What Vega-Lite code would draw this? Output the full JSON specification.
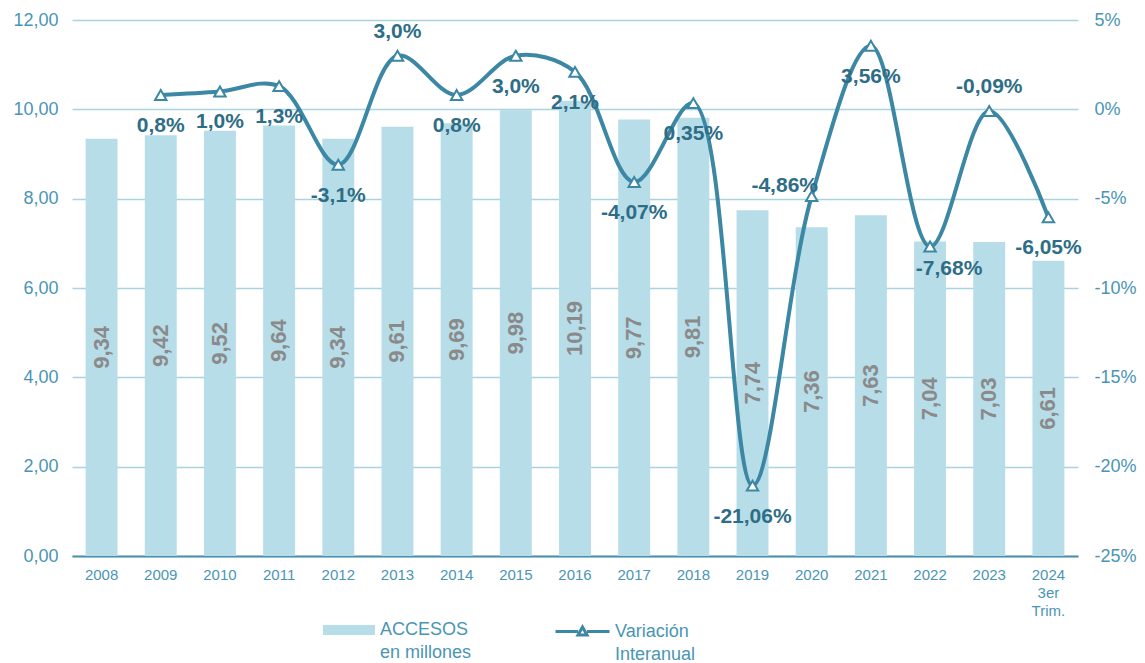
{
  "$schema": "https://vega.github.io/schema/vega-lite/v6.json",
  "width": 1006,
  "height": 536,
  "autosize": {"type": "none"},
  "padding": {"left": 72, "top": 20, "right": 67, "bottom": 107},
  "background": "white",
  "config": {
    "view": {"stroke": null},
    "locale": {"number": {"decimal": ",", "thousands": ".", "grouping": [3], "currency": ["", " €"]}},
    "font": "Liberation Sans",
    "style": {"guide-label": {"lineHeight": 23}}
  },
  "data": {
    "values": [
      {"year": "2008", "acc": 9.34, "var": null, "lab": null},
      {"year": "2009", "acc": 9.42, "var": 0.8, "lab": "0,8%"},
      {"year": "2010", "acc": 9.52, "var": 1.0, "lab": "1,0%"},
      {"year": "2011", "acc": 9.64, "var": 1.3, "lab": "1,3%"},
      {"year": "2012", "acc": 9.34, "var": -3.1, "lab": "-3,1%"},
      {"year": "2013", "acc": 9.61, "var": 3.0, "lab": "3,0%"},
      {"year": "2014", "acc": 9.69, "var": 0.8, "lab": "0,8%"},
      {"year": "2015", "acc": 9.98, "var": 3.0, "lab": "3,0%"},
      {"year": "2016", "acc": 10.19, "var": 2.1, "lab": "2,1%"},
      {"year": "2017", "acc": 9.77, "var": -4.07, "lab": "-4,07%"},
      {"year": "2018", "acc": 9.81, "var": 0.35, "lab": "0,35%"},
      {"year": "2019", "acc": 7.74, "var": -21.06, "lab": "-21,06%"},
      {"year": "2020", "acc": 7.36, "var": -4.86, "lab": "-4,86%"},
      {"year": "2021", "acc": 7.63, "var": 3.56, "lab": "3,56%"},
      {"year": "2022", "acc": 7.04, "var": -7.68, "lab": "-7,68%"},
      {"year": "2023", "acc": 7.03, "var": -0.09, "lab": "-0,09%"},
      {"year": "2024", "acc": 6.61, "var": -6.05, "lab": "-6,05%"}
    ]
  },
  "encoding": {
    "x": {
      "field": "year",
      "type": "ordinal",
      "title": null,
      "scale": {"paddingInner": 0.46, "paddingOuter": 0.23},
      "axis": {
        "labelAngle": 0,
        "labelFontSize": 15,
        "labelColor": "#4a95b5",
        "labelFont": "Liberation Sans",
        "labelPadding": 11,
        "labelLineHeight": 18,
        "ticks": false,
        "domainColor": "#4a8fae",
        "domainWidth": 2,
        "grid": false,
        "labelExpr": "datum.value == '2024' ? ['2024', '3er', 'Trim.'] : datum.value"
      }
    }
  },
  "layer": [
    {
      "layer": [
        {
          "mark": {"type": "bar"},
          "encoding": {
            "y": {
              "field": "acc",
              "type": "quantitative",
              "scale": {"domain": [0, 12], "nice": false},
              "axis": {
                "title": null,
                "values": [0, 2, 4, 6, 8, 10, 12],
                "format": ".2f",
                "domain": false,
                "ticks": false,
                "labelPadding": 14,
                "labelFontSize": 18,
                "labelColor": "#4a95b5",
                "labelFont": "Liberation Sans",
                "gridColor": "#a8d3e0",
                "gridWidth": 1.5
              }
            },
            "color": {
              "datum": "ACCESOS",
              "scale": {"range": ["#b7dde8"]},
              "legend": {
                "orient": "none",
                "legendX": 267,
                "legendY": 600,
                "title": null,
                "symbolType": "M-2.6,-0.5H2.6V0.5H-2.6Z",
                "symbolSize": 400,
                "symbolStrokeWidth": 0,
                "symbolOpacity": 1,
                "labelOffset": 21,
                "labelFontSize": 18,
                "labelColor": "#4a95b5",
                "labelFont": "Liberation Sans",
                "labelLimit": 300,
                "labelBaseline": "middle",
                "labelExpr": "['ACCESOS', 'en millones']"
              }
            }
          }
        },
        {
          "transform": [{"calculate": "datum.acc / 2", "as": "mid"}],
          "mark": {"type": "text", "angle": 270, "fontWeight": "bold", "fontSize": 22, "color": "#8a8a8a", "font": "Liberation Sans"},
          "encoding": {
            "y": {"field": "mid", "type": "quantitative"},
            "text": {"field": "acc", "type": "quantitative", "format": ".2f"}
          }
        }
      ]
    },
    {
      "transform": [{"filter": "datum.var != null"}],
      "layer": [
        {
          "mark": {"type": "line", "interpolate": "catmull-rom", "strokeWidth": 4},
          "encoding": {
            "y": {
              "field": "var",
              "type": "quantitative",
              "scale": {"domain": [-25, 5], "nice": false},
              "axis": {
                "orient": "right",
                "title": null,
                "values": [-25, -20, -15, -10, -5, 0, 5],
                "labelExpr": "datum.value + '%'",
                "domain": false,
                "ticks": false,
                "grid": false,
                "labelPadding": 16,
                "labelFontSize": 18,
                "labelColor": "#4a95b5",
                "labelFont": "Liberation Sans"
              }
            },
            "stroke": {
              "datum": "Variación",
              "scale": {"range": ["#3b87a4"]},
              "legend": {
                "orient": "none",
                "legendX": 499,
                "legendY": 600,
                "title": null,
                "symbolType": "M-2.7,0H-0.45M0.45,0H2.7M0,-0.45L0.45,0.35L-0.45,0.35Z",
                "symbolSize": 400,
                "symbolStrokeWidth": 3,
                "symbolFillColor": "white",
                "labelOffset": 21,
                "labelFontSize": 18,
                "labelColor": "#4a95b5",
                "labelFont": "Liberation Sans",
                "labelLimit": 300,
                "labelBaseline": "middle",
                "labelExpr": "['Variación', 'Interanual']"
              }
            }
          }
        },
        {
          "mark": {"type": "point", "shape": "triangle-up", "size": 130, "filled": true, "fill": "white", "stroke": "#3b87a4", "strokeWidth": 2, "opacity": 1},
          "encoding": {"y": {"field": "var", "type": "quantitative"}}
        },
        {
          "transform": [{"filter": "indexof(['2013', '2023', '2020', '2022'], datum.year) < 0"}],
          "mark": {"type": "text", "fontWeight": "bold", "fontSize": 21, "color": "#2e6d86", "dy": 31, "font": "Liberation Sans"},
          "encoding": {"y": {"field": "var", "type": "quantitative"}, "text": {"field": "lab"}}
        },
        {
          "transform": [{"filter": "datum.year == '2013' || datum.year == '2023'"}],
          "mark": {"type": "text", "fontWeight": "bold", "fontSize": 21, "color": "#2e6d86", "dy": -24, "font": "Liberation Sans"},
          "encoding": {"y": {"field": "var", "type": "quantitative"}, "text": {"field": "lab"}}
        },
        {
          "transform": [{"filter": "datum.year == '2020'"}],
          "mark": {"type": "text", "fontWeight": "bold", "fontSize": 21, "color": "#2e6d86", "dy": -10, "dx": -27, "font": "Liberation Sans"},
          "encoding": {"y": {"field": "var", "type": "quantitative"}, "text": {"field": "lab"}}
        },
        {
          "transform": [{"filter": "datum.year == '2022'"}],
          "mark": {"type": "text", "fontWeight": "bold", "fontSize": 21, "color": "#2e6d86", "dy": 22, "dx": 19, "font": "Liberation Sans"},
          "encoding": {"y": {"field": "var", "type": "quantitative"}, "text": {"field": "lab"}}
        }
      ]
    }
  ],
  "resolve": {"scale": {"y": "independent"}}
}
